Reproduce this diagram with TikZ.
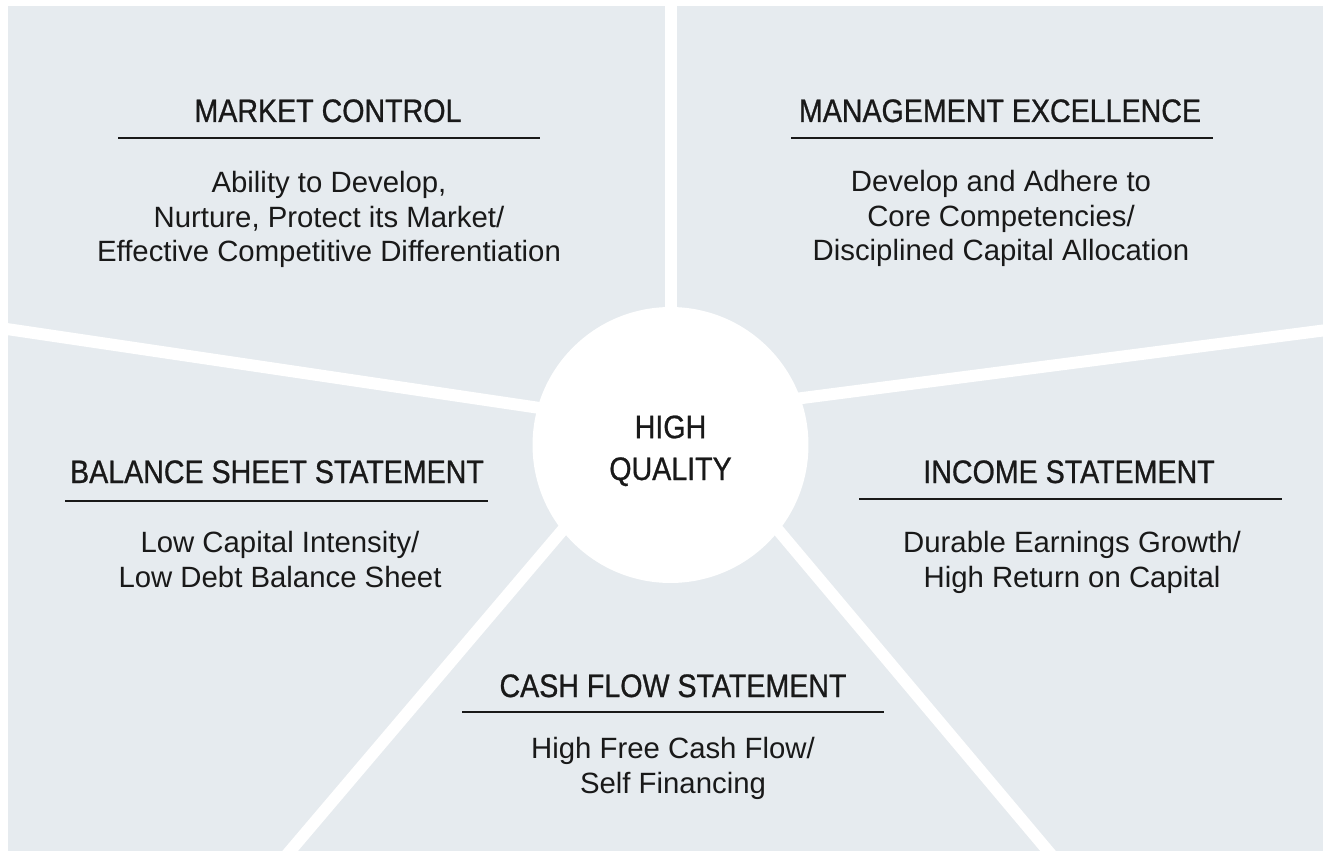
\documentclass[tikz,border=0pt]{standalone}
\usepackage{fontspec}
\setmainfont{Liberation Sans}
\newfontfamily\headfont[FakeStretch=0.88,FakeBold=0.8]{Liberation Sans}
\usetikzlibrary{calc}
\definecolor{panelgray}{RGB}{230,235,239}
\definecolor{inkgray}{RGB}{25,25,25}

\begin{document}
\begin{tikzpicture}[x=0.02cm, y=-0.02cm,
    head/.style={anchor=base, inner sep=0pt, text=inkgray,
        font=\headfont\fontsize{18.5}{23.8}\selectfont},
    desc/.style={anchor=base, inner sep=0pt, align=center, text=inkgray,
        font=\fontsize{16.7}{19.84}\selectfont},
    rulebar/.style={line width=1.1pt, draw=inkgray},
    spoke/.style={draw=white, line width=6.8pt}]
    %%Background
    \useasboundingbox (0,0) rectangle (1323,851);
    \clip (0,0) rectangle (1323,851);
    \fill[panelgray] (8,6) rectangle (1323,851);

    %%Spokes
    \coordinate (top) at (671,-10);
    \coordinate (topin) at (671,445);
    \coordinate (lft) at (0,328);
    \coordinate (lftin) at (560,411);
    \coordinate (rgt) at (1330,329.6);
    \coordinate (rgtin) at (760,403.5);
    \coordinate (botl) at (274,870);
    \coordinate (botlin) at (600,486);
    \coordinate (botr) at (1064,870);
    \coordinate (botrin) at (741,486);
    \draw[spoke] (top) -- (topin);
    \draw[spoke] (lft) -- (lftin);
    \draw[spoke] (rgt) -- (rgtin);
    \draw[spoke] (botl) -- (botlin);
    \draw[spoke] (botr) -- (botrin);

    %%Centre
    \node[circle, fill=white, minimum size=5.52cm, inner sep=0pt] (hq) at (670.5,445) {};
    \node[head, align=center] (hqt) at (670.5,480) {HIGH\\QUALITY};

    %%Market control
    \node[head] (mkt) at (328,122) {MARKET CONTROL};
    \draw[rulebar] (118,138) coordinate (mktl) -- (540,138) coordinate (mktr);
    \node[desc] (mktd) at (329,262) {Ability to Develop,\\Nurture, Protect its Market/\\Effective Competitive Differentiation};

    %%Management excellence
    \node[head] (mgt) at (1000,122) {MANAGEMENT EXCELLENCE};
    \draw[rulebar] (791,138) coordinate (mgtl) -- (1213,138) coordinate (mgtr);
    \node[desc] (mgtd) at (1001,261) {Develop and Adhere to\\Core Competencies/\\Disciplined Capital Allocation};

    %%Balance sheet
    \node[head] (bal) at (277,483) {BALANCE SHEET STATEMENT};
    \draw[rulebar] (65,501) coordinate (ball) -- (488,501) coordinate (balr);
    \node[desc] (bald) at (280,587) {Low Capital Intensity/\\Low Debt Balance Sheet};

    %%Income statement
    \node[head] (inc) at (1069,483) {INCOME STATEMENT};
    \draw[rulebar] (859,499) coordinate (incl) -- (1282,499) coordinate (incr);
    \node[desc] (incd) at (1072,587) {Durable Earnings Growth/\\High Return on Capital};

    %%Cash flow
    \node[head] (csh) at (673,697) {CASH FLOW STATEMENT};
    \draw[rulebar] (462,712) coordinate (cshl) -- (884,712) coordinate (cshr);
    \node[desc] (cshd) at (673,793) {High Free Cash Flow/\\Self Financing};
\end{tikzpicture}
\end{document}
